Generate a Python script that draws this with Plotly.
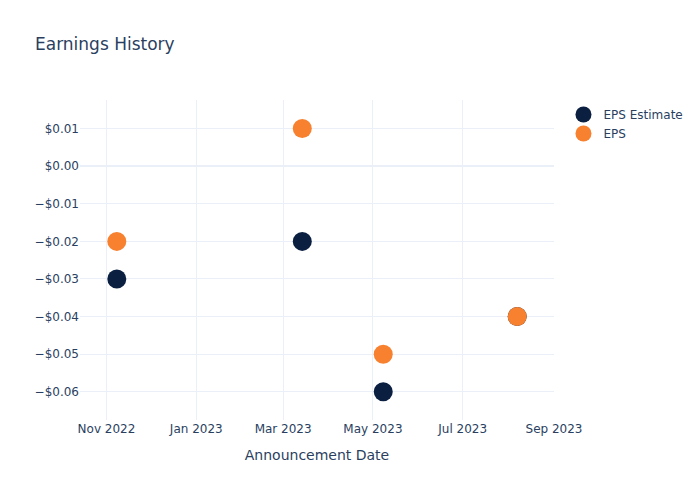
import plotly.graph_objects as go

dates = ["2022-11-08", "2023-03-14", "2023-05-08", "2023-08-07"]
eps_estimate = [-0.03, -0.02, -0.06, -0.04]
eps_actual = [-0.02, 0.01, -0.05, -0.04]

fig = go.Figure()
fig.add_trace(go.Scatter(x=dates, y=eps_estimate, mode="markers", name="EPS Estimate",
                         marker=dict(size=19, color="#0b1f41")))
fig.add_trace(go.Scatter(x=dates, y=eps_actual, mode="markers", name="EPS",
                         marker=dict(size=19, color="#f7812f")))
fig.update_layout(
    template="plotly_white",
    width=700, height=500,
    font=dict(family="DejaVu Sans"),
    title=dict(text="Earnings History"),
    xaxis=dict(title=dict(text="Announcement Date"), dtick="M2", tickformat="%b %Y",
               range=["2022-10-14", "2023-09-01"]),
    yaxis=dict(tickformat="$.2f", range=[-0.0675, 0.0176]),
)
fig.write_html("out.html")
